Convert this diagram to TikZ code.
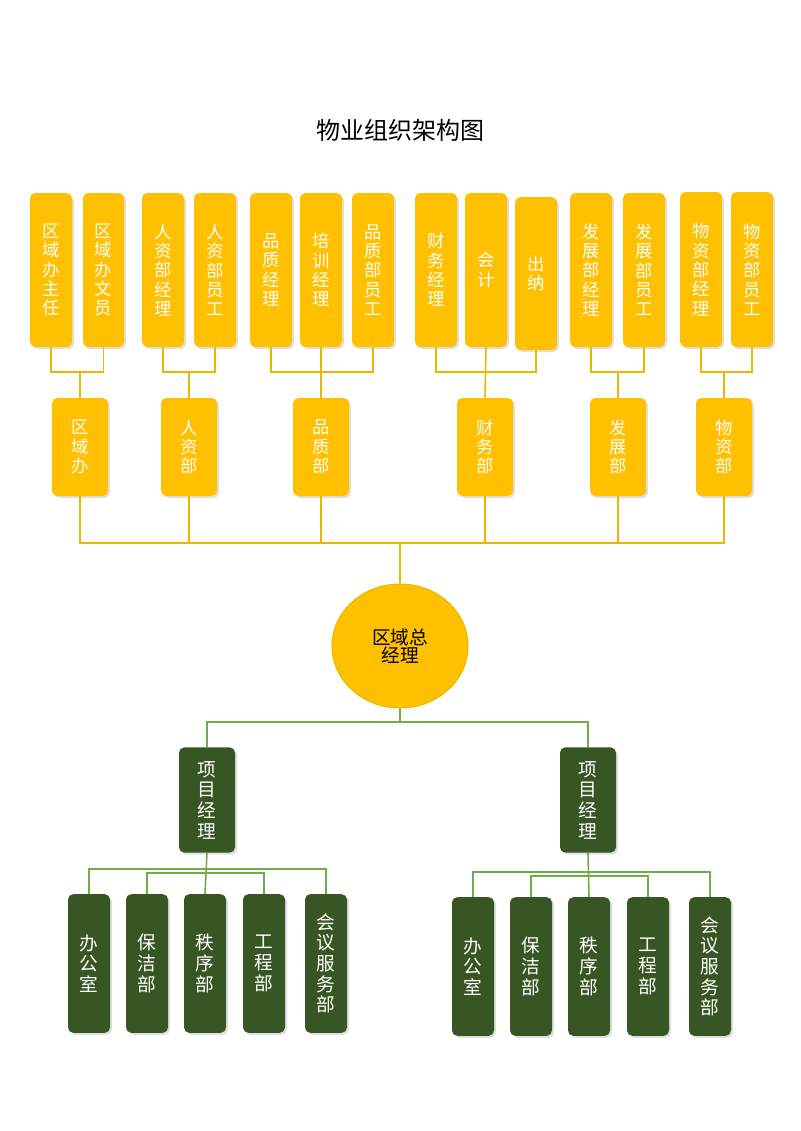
\documentclass[tikz,border=0pt]{standalone}
\usepackage{fontspec}
\setmainfont{Noto Sans CJK SC}
\usetikzlibrary{shadows,shapes.geometric}
\definecolor{yel}{HTML}{FFC000}
\definecolor{yline}{HTML}{E8B800}
\definecolor{dg}{HTML}{375623}
\definecolor{gline}{HTML}{70AD47}
\begin{document}
\begin{tikzpicture}[x=0.75pt,y=-0.75pt,
  ybox/.style={fill=yel,rounded corners=4pt,drop shadow={opacity=0.25,shadow xshift=1.5pt,shadow yshift=-1.5pt},text=white,font=\fontsize{13}{14.5}\selectfont,align=center,inner sep=0pt},
  gbox/.style={fill=dg,rounded corners=4pt,drop shadow={opacity=0.25,shadow xshift=1.5pt,shadow yshift=-1.5pt},text=white,font=\fontsize{14}{15.5}\selectfont,align=center,inner sep=0pt},
  yl/.style={draw=yline,line width=1.2pt},
  gl/.style={draw=gline,line width=1.2pt}]
\useasboundingbox (0,0) rectangle (800,1131);
\node[font=\fontsize{18}{20}\selectfont] (title) at (400,130) {物业组织架构图};
\foreach \n/\a/\b/\ya/\yb/\t in {
 t1/30/72/193/347/区\\域\\办\\主\\任,
 t2/83/124/193/347/区\\域\\办\\文\\员,
 t3/142/184/193/347/人\\资\\部\\经\\理,
 t4/194/236/193/347/人\\资\\部\\员\\工,
 t5/250/292/193/347/品\\质\\经\\理,
 t6/300/342/193/347/培\\训\\经\\理,
 t7/352/394/193/347/品\\质\\部\\员\\工,
 t8/415/457/193/347/财\\务\\经\\理,
 t9/465/507/193/347/会\\计,
 t10/515/557/197/350/出\\纳,
 t11/570/612/193/347/发\\展\\部\\经\\理,
 t12/623/665/193/347/发\\展\\部\\员\\工,
 t13/680/722/192/347/物\\资\\部\\经\\理,
 t14/731/773/192/347/物\\资\\部\\员\\工}
 {\node[ybox,minimum width={(\b-\a)*0.75pt},minimum height={(\yb-\ya)*0.75pt}] (\n) at ({(\a+\b)/2},{(\ya+\yb)/2}) {\t};}
\foreach \n/\c/\t in {m1/80/区\\域\\办, m2/189/人\\资\\部, m3/321/品\\质\\部, m4/485/财\\务\\部, m5/618/发\\展\\部, m6/724/物\\资\\部}
 {\node[ybox,minimum width=42pt,minimum height=73.5pt] (\n) at (\c,447) {\t};}
\node[ellipse,fill=yel,draw=yline,line width=0.8pt,minimum width=102pt,minimum height=93pt,align=center,font=\fontsize{14}{14}\selectfont,inner sep=0pt] (ceo) at (400,646) {区域总\\经理};
\coordinate (b1) at (80,372);
\draw[yl] (t1.south) |- (b1) -| (t2.south); \draw[yl] (b1) -- (m1.north);
\draw[yl] (t3.south) |- (189,372) -| (t4.south); \draw[yl] (189,372) -- (m2.north);
\draw[yl] (t5.south) |- (321,372) -| (t7.south); \draw[yl] (t6.south) -- (m3.north);
\draw[yl] (t8.south) |- (486,372) -| (t10.south); \draw[yl] (t9.south) -- (m4.north);
\draw[yl] (t11.south) |- (618,372) -| (t12.south); \draw[yl] (618,372) -- (m5.north);
\draw[yl] (t13.south) |- (724,372) -| (t14.south); \draw[yl] (724,372) -- (m6.north);
\draw[yl] (m1.south) |- (400,543) -| (m6.south);
\foreach \m in {m2,m3,m4,m5} \draw[yl] (\m.south) -- (\m.south |- 0,543);
\draw[yl] (400,543) -- (ceo.north);
\node[gbox,minimum width=42pt,minimum height=79pt] (p1) at (207,800) {项\\目\\经\\理};
\node[gbox,minimum width=42pt,minimum height=79pt] (p2) at (588,800) {项\\目\\经\\理};
\draw[gl] (p1.north) |- (400,722) -| (p2.north);
\draw[gl] (ceo.south) -- (400,722);
\foreach \p/\o/\y in {p1/0/894,p2/384/897}{
 \node[gbox,minimum width=31.5pt,minimum height=104pt] (\p a) at ({89+\o},{\y+69.5}) {办\\公\\室};
 \node[gbox,minimum width=31.5pt,minimum height=104pt] (\p b) at ({147+\o},{\y+69.5}) {保\\洁\\部};
 \node[gbox,minimum width=31.5pt,minimum height=104pt] (\p c) at ({205+\o},{\y+69.5}) {秩\\序\\部};
 \node[gbox,minimum width=31.5pt,minimum height=104pt] (\p d) at ({264+\o},{\y+69.5}) {工\\程\\部};
 \node[gbox,minimum width=31.5pt,minimum height=104pt] (\p e) at ({326+\o},{\y+69.5}) {会\\议\\服\\务\\部};
 \draw[gl] (\p a.north) |- ({206+\o},{\y-25}) -| (\p e.north);
 \draw[gl] (\p b.north) |- ({206+\o},{\y-21}) -| (\p d.north);
 \draw[gl] (\p.south) -- (\p c.north);
}
\end{tikzpicture}
\end{document}
